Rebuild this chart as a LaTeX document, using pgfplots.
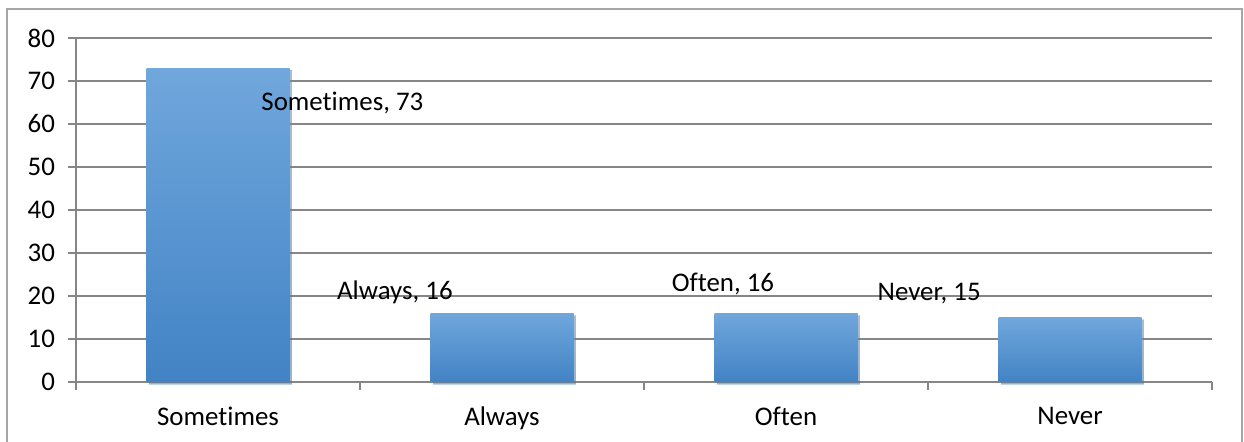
\documentclass[border=0pt]{standalone}
\usepackage{fontspec}
\setmainfont{Carlito}[Ligatures={NoCommon}]
\usepackage{pgfplots}
\pgfplotsset{compat=1.18}
\usetikzlibrary{shadows}
\definecolor{gridgray}{HTML}{868686}
\definecolor{framegray}{HTML}{A6A6A6}
\definecolor{bartop}{HTML}{70A7DC}
\definecolor{barmid}{HTML}{5599D8}
\definecolor{barbot}{HTML}{4283C5}
\begin{document}
\begin{tikzpicture}[font=\fontsize{13.5}{16}\selectfont]
\useasboundingbox (-38bp,-30bp) rectangle (584bp,191bp);
\draw[framegray, line width=1.2bp] (-34.5bp,-40bp) -- (-34.5bp,186.5bp) -- (583bp,186.5bp) -- (583bp,-40bp);
\begin{axis}[
  at={(0,0)}, anchor=south west,
  scale only axis, width=568bp, height=172bp,
  xmin=-0.5, xmax=3.5, ymin=0, ymax=80,
  xtick={0,1,2,3}, xticklabels={Sometimes,Always,Often,Never},
  minor xtick={-0.5,0.5,1.5,2.5,3.5},
  major x tick style={draw=none},
  minor tick length=4bp, major tick length=4bp,
  ytick={0,10,...,80},
  tick align=outside,
  axis x line*=bottom, axis y line*=left,
  axis line style={gridgray, line width=0.75bp, -},
  every tick/.style={gridgray, line width=0.75bp},
  ymajorgrids, grid style={gridgray, line width=0.75bp},
  /pgf/number format/assume math mode=true,
  yticklabel style={xshift=-3bp},
  xticklabel style={yshift=-5bp},
  ybar, bar width=71.5bp,
  clip=false,
]
\pgfplotsset{barstyle/.style={ybar, bar shift=0pt, draw=none, top color=bartop, middle color=barmid, bottom color=barbot,
  drop shadow={shadow xshift=1.2bp, shadow yshift=-1.2bp, opacity=0.35, fill=black!60}}}
\addplot[barstyle] coordinates {(0,73)};
\addplot[barstyle] coordinates {(1,16)};
\addplot[barstyle] coordinates {(2,16)};
\addplot[barstyle] coordinates {(3,15)};
\node at (axis cs:0.438,64.9) {Sometimes, 73};
\node at (axis cs:0.623,20.9) {Always, 16};
\node at (axis cs:1.778,22.8) {Often, 16};
\node at (axis cs:2.504,20.5) {Never, 15};
\end{axis}
\end{tikzpicture}
\end{document}
